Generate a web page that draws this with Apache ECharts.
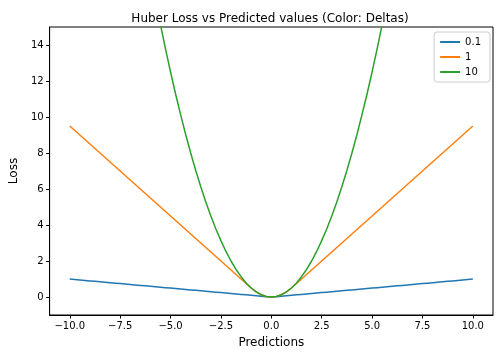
<!DOCTYPE html>
<html><head><meta charset="utf-8">
<script src="https://cdn.jsdelivr.net/npm/echarts@6/dist/echarts.min.js"></script>
<style>html,body{margin:0;padding:0;background:#fff}#c{width:504px;height:360px}</style>
</head><body><div id="c"></div>
<script>
const predictions = [-10,-9.75,-9.5,-9.25,-9,-8.75,-8.5,-8.25,-8,-7.75,-7.5,-7.25,-7,-6.75,-6.5,-6.25,-6,-5.75,-5.5,-5.25,-5,-4.75,-4.5,-4.25,-4,-3.75,-3.5,-3.25,-3,-2.75,-2.5,-2.25,-2,-1.75,-1.5,-1.25,-1,-0.75,-0.5,-0.25,0,
0.25,0.5,0.75,1,1.25,1.5,1.75,2,2.25,2.5,2.75,3,3.25,3.5,3.75,4,4.25,4.5,4.75,5,5.25,5.5,5.75,6,6.25,6.5,6.75,7,7.25,7.5,7.75,8,8.25,8.5,8.75,9,9.25,9.5,9.75,10];
const lossDelta01 = [0.995,0.97,0.945,0.92,0.895,0.87,0.845,0.82,0.795,0.77,0.745,0.72,0.695,0.67,0.645,0.62,0.595,0.57,0.545,0.52,0.495,0.47,0.445,0.42,0.395,0.37,0.345,0.32,0.295,0.27,0.245,0.22,0.195,0.17,0.145,0.12,0.095,0.07,0.045,0.02,0,
0.02,0.045,0.07,0.095,0.12,0.145,0.17,0.195,0.22,0.245,0.27,0.295,0.32,0.345,0.37,0.395,0.42,0.445,0.47,0.495,0.52,0.545,0.57,0.595,0.62,0.645,0.67,0.695,0.72,0.745,0.77,0.795,0.82,0.845,0.87,0.895,0.92,0.945,0.97,0.995];
const lossDelta1 = [9.5,9.25,9,8.75,8.5,8.25,8,7.75,7.5,7.25,7,6.75,6.5,6.25,6,5.75,5.5,5.25,5,4.75,4.5,4.25,4,3.75,3.5,3.25,3,2.75,2.5,2.25,2,1.75,1.5,1.25,1,0.75,0.5,0.28,0.125,0.031,0,
0.031,0.125,0.28,0.5,0.75,1,1.25,1.5,1.75,2,2.25,2.5,2.75,3,3.25,3.5,3.75,4,4.25,4.5,4.75,5,5.25,5.5,5.75,6,6.25,6.5,6.75,7,7.25,7.5,7.75,8,8.25,8.5,8.75,9,9.25,9.5];
const lossDelta10 = [50,47.53,45.13,42.78,40.5,38.28,36.13,34.03,32,30.03,28.13,26.28,24.5,22.78,21.13,19.53,18,16.53,15.13,13.78,12.5,11.28,10.13,9.03,8,7.03,6.13,5.28,4.5,3.78,3.13,2.53,2,1.53,1.13,0.78,0.5,0.28,0.125,0.031,0,
0.031,0.125,0.28,0.5,0.78,1.13,1.53,2,2.53,3.13,3.78,4.5,5.28,6.13,7.03,8,9.03,10.13,11.28,12.5,13.78,15.13,16.53,18,19.53,21.13,22.78,24.5,26.28,28.13,30.03,32,34.03,36.13,38.28,40.5,42.78,45.13,47.53,50];
const seriesNames = ['0.1','1','10'];
const xTicks = [-10,-7.5,-5,-2.5,0,2.5,5,7.5,10];
const yTicks = [0,2,4,6,8,10,12,14];

const pair = ys => predictions.map((x,i)=>[x, ys[i]]);
const colors = ['#1f77b4','#ff7f0e','#2ca02c'];
const allLoss = [lossDelta01, lossDelta1, lossDelta10];
const font = 'DejaVu Sans';
const chart = echarts.init(document.getElementById('c'), null, {renderer:'canvas'});
chart.setOption({
  animation:false,
  backgroundColor:'#fff',
  title:{text:'Huber Loss vs Predicted values (Color: Deltas)', left:265, textAlign:'center', top:8,
    textStyle:{fontFamily:font, fontSize:12, fontWeight:'normal', color:'#000'}},
  grid:{left:48.5, right:11, top:27, bottom:45, show:true, borderColor:'#000', borderWidth:1, backgroundColor:'transparent'},
  legend:{right:14, top:32, orient:'vertical', data:seriesNames, itemWidth:20, itemHeight:2, itemGap:5,
    icon:'rect', backgroundColor:'#fff', borderColor:'#ccc', borderWidth:1, borderRadius:3, padding:[5,9,5,6],
    textStyle:{fontFamily:font, fontSize:10, color:'#000'}},
  xAxis:{type:'value', min:-11, max:11, name:'Predictions', nameLocation:'middle', nameGap:22,
    nameTextStyle:{fontFamily:font, fontSize:12, color:'#000'},
    axisLine:{show:true, onZero:false, lineStyle:{color:'#000', width:1}},
    axisTick:{show:true, length:3.5, customValues:xTicks, lineStyle:{color:'#000'}},
    axisLabel:{customValues:xTicks, fontFamily:font, fontSize:10, color:'#000', margin:6,
      formatter:v=>v.toFixed(1).replace('-','\u2212')},
    splitLine:{show:false}},
  yAxis:{type:'value', min:-1, max:15, name:'Loss', nameLocation:'middle', nameGap:25,
    nameTextStyle:{fontFamily:font, fontSize:12, color:'#000'},
    axisLine:{show:true, onZero:false, lineStyle:{color:'#000', width:1}},
    axisTick:{show:true, length:3.5, customValues:yTicks, lineStyle:{color:'#000'}},
    axisLabel:{customValues:yTicks, fontFamily:font, fontSize:10, color:'#000', margin:6,
      formatter:v=>String(v).replace('-','\u2212')},
    splitLine:{show:false}},
  series: seriesNames.map((n,i)=>({name:n, type:'line', data:pair(allLoss[i]), showSymbol:false, symbol:'none',
    clip:true, lineStyle:{color:colors[i], width:1.5}, itemStyle:{color:colors[i]}}))
});
</script></body></html>
